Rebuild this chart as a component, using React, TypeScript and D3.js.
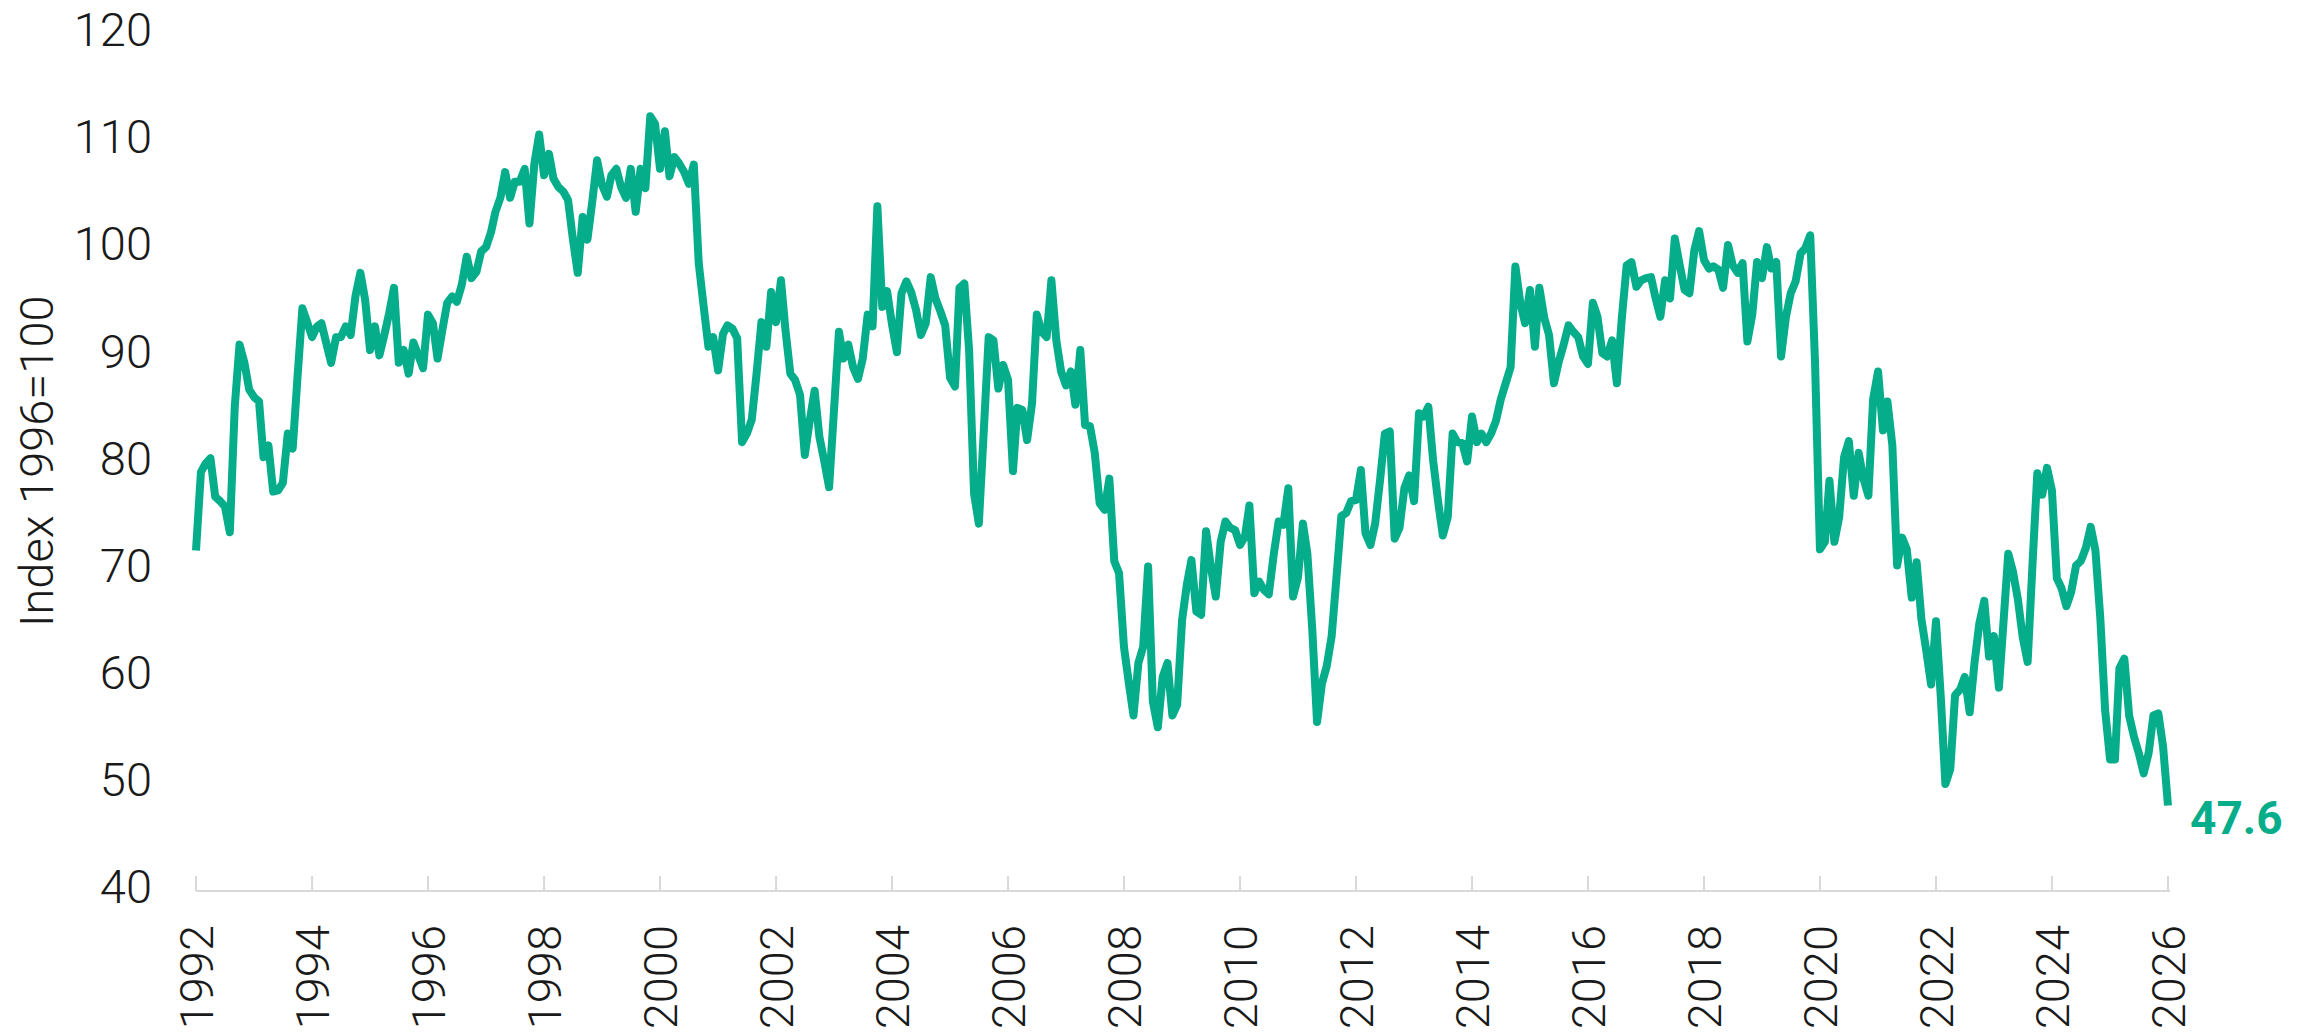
import React from "react";
import * as d3 from "d3";

const WIDTH = 2300;
const HEIGHT = 1033;

// Monthly index values, Jan 1992 onwards
const values1992to1999 = [
  71.4, 78.7, 79.5, 80.0, 76.4, 76.0, 75.5, 73.1, 84.8, 90.6, 88.9, 86.4,
  85.7, 85.3, 80.1, 81.2, 76.9, 77.0, 77.7, 82.3, 80.9, 87.5, 94.0, 92.7,
  91.3, 92.3, 92.6, 90.7, 88.9, 91.3, 91.3, 92.3, 91.5, 95.1, 97.3, 94.8,
  90.1, 92.3, 89.6, 91.5, 93.5, 95.9, 88.9, 90.1, 87.9, 90.8, 89.6, 88.4,
  93.4, 92.6, 89.3, 92.0, 94.5, 95.1, 94.6, 96.2, 98.8, 96.8, 97.4, 99.3,
  99.7, 101.1, 103.0, 104.3, 106.7, 104.3, 105.8, 105.8, 107.0, 101.9, 107.5, 110.2,
  106.4, 108.4, 106.1, 105.3, 104.9, 104.1, 100.5, 97.3, 102.5, 100.4, 104.0, 107.8,
  105.5, 104.4, 106.4, 107.0, 105.3, 104.3, 107.0, 103.0, 107.0, 105.2, 111.9, 111.2,
];
const values2000to2009 = [
  107.0, 110.5, 106.3, 108.1, 107.5, 106.7, 105.6, 107.4, 98.2, 94.3, 90.4, 91.3,
  88.2, 91.6, 92.4, 92.1, 91.2, 81.5, 82.3, 83.6, 88.0, 92.7, 90.4, 95.5,
  92.7, 96.6, 92.0, 87.9, 87.3, 85.9, 80.3, 83.5, 86.3, 82.0, 79.7, 77.3,
  84.5, 91.8, 89.3, 90.6, 88.5, 87.4, 89.3, 93.4, 92.3, 103.5, 94.1, 95.6,
  92.5, 89.9, 95.4, 96.5, 95.5, 93.8, 91.5, 92.6, 96.9, 94.9, 93.7, 92.4,
  87.5, 86.7, 95.9, 96.3, 90.0, 76.7, 73.9, 82.5, 91.3, 91.0, 86.5, 88.7,
  87.3, 78.8, 84.7, 84.5, 81.7, 85.1, 93.4, 91.8, 91.3, 96.6, 91.0, 88.1,
  86.8, 88.1, 85.0, 90.1, 83.1, 83.0, 80.5, 75.8, 75.2, 78.1, 70.4, 69.3,
  62.4, 59.0, 56.0, 60.9, 62.4, 69.9, 57.3, 54.9, 59.6, 60.9, 56.0, 57.0,
  64.9, 68.3, 70.5, 65.7, 65.4, 73.2, 69.9, 67.1, 72.2, 74.1, 73.5, 73.3,
];
const values2010to2019 = [
  71.9, 72.7, 75.6, 67.4, 68.5, 67.7, 67.3, 71.0, 74.1, 73.8, 77.2, 67.1,
  68.9, 73.9, 71.1, 64.0, 55.4, 59.0, 60.6, 63.4, 69.0, 74.6, 74.9, 76.0,
  76.1, 78.9, 73.0, 71.9, 73.9, 78.0, 82.3, 82.5, 72.5, 73.5, 77.2, 78.4,
  76.0, 84.2, 83.9, 84.8, 79.8, 76.0, 72.8, 74.5, 82.3, 81.5, 81.4, 79.7,
  83.9, 81.5, 82.3, 81.5, 82.3, 83.5, 85.5, 87.0, 88.5, 97.9, 94.5, 92.6,
  95.7, 90.4, 95.9, 93.1, 91.5, 87.0, 89.0, 90.6, 92.4, 91.8, 91.3, 89.5,
  88.8, 94.5, 93.2, 89.8, 89.5, 91.0, 87.0, 93.0, 98.0, 98.3, 96.0, 96.6,
  96.8, 96.9, 95.0, 93.2, 96.6, 94.9, 100.5, 98.0, 95.7, 95.4, 99.4, 101.2,
  98.5, 97.7, 97.9, 97.6, 95.9, 99.9, 98.0, 97.3, 98.2, 90.9, 93.4, 98.3,
  96.8, 99.7, 97.7, 98.3, 89.5, 93.2, 95.4, 96.5, 99.1, 99.6, 100.8, 89.0,
];
const values2020to2026 = [
  71.5, 72.2, 77.9, 72.2, 74.5, 80.1, 81.6, 76.5, 80.5, 78.1, 76.5, 85.5,
  88.1, 82.6, 85.3, 81.2, 70.0, 72.6, 71.5, 67.0, 70.3, 65.0, 62.0, 58.9,
  64.8, 57.5, 49.6, 51.0, 57.9, 58.4, 59.6, 56.3, 61.0, 64.6, 66.7, 61.5,
  63.4, 58.6, 64.5, 71.1, 69.4, 66.8, 63.3, 61.0, 70.2, 78.6, 76.6, 79.1,
  77.0, 68.8, 67.9, 66.2, 67.5, 70.0, 70.4, 71.6, 73.6, 71.4, 65.0, 56.5,
  51.9, 51.9, 60.4, 61.3, 56.0, 54.0, 52.5, 50.6, 52.5, 56.0, 56.2, 53.1,
  47.6,
];

const startYear = 1992;
const endYear = 2026;
const yTickValues = [40, 50, 60, 70, 80, 90, 100, 110, 120];
const xTickYears = [1992, 1994, 1996, 1998, 2000, 2002, 2004, 2006, 2008, 2010, 2012, 2014, 2016, 2018, 2020, 2022, 2024, 2026];
const yAxisTitle = "Index 1996=100";

const GREEN = "#06ad8a";
const TEXT = "#1a1a1a";
const AXIS = "#d9d9d9";

export default function App() {
  const values = [...values1992to1999, ...values2000to2009, ...values2010to2019, ...values2020to2026];
  const data = values.map((v, i) => ({ date: new Date(startYear, i, 1), value: v }));

  const x = d3
    .scaleTime()
    .domain([new Date(startYear, 0, 1), new Date(endYear, 0, 1)])
    .range([196, 2168]);
  const y = d3.scaleLinear().domain([40, 120]).range([887, 29.5]);

  const line = d3
    .line<{ date: Date; value: number }>()
    .x((d) => x(d.date))
    .y((d) => y(d.value));

  const last = data[data.length - 1];
  const axisY = 891;

  return (
    <svg
      width={WIDTH}
      height={HEIGHT}
      style={{ position: "absolute", left: 0, top: 0, background: "#fff" }}
      fontFamily="Roboto, 'Noto Sans', sans-serif"
    >
      {yTickValues.map((v) => (
        <text
          key={v}
          x={152}
          y={y(v)}
          dy="0.35em"
          textAnchor="end"
          fontSize={47}
          fontWeight={300}
          fill={TEXT}
        >
          {v}
        </text>
      ))}
      <text
        transform={`translate(53, ${(y(40) + y(120)) / 2 + 3}) rotate(-90)`}
        textAnchor="middle"
        fontSize={47}
        fontWeight={300}
        fill={TEXT}
      >
        {yAxisTitle}
      </text>

      <line x1={x(new Date(startYear, 0, 1))} x2={x(new Date(endYear, 0, 1)) + 2} y1={axisY} y2={axisY} stroke={AXIS} strokeWidth={2} />
      {xTickYears.map((yr) => {
        const xx = x(new Date(yr, 0, 1));
        return (
          <g key={yr}>
            <line x1={xx} x2={xx} y1={axisY - 15} y2={axisY} stroke={AXIS} strokeWidth={2} />
            <text
              transform={`translate(${xx + 17}, 925) rotate(-90)`}
              textAnchor="end"
              fontSize={47}
              fontWeight={300}
              fill={TEXT}
            >
              {yr}
            </text>
          </g>
        );
      })}

      <path
        d={line(data) || ""}
        fill="none"
        stroke={GREEN}
        strokeWidth={8}
        strokeLinejoin="round"
        strokeLinecap="butt"
      />

      <text
        x={x(last.date) + 22}
        y={y(last.value) + 12}
        dy="0.35em"
        fontSize={46}
        fontWeight={700}
        fill={GREEN}
      >
        {last.value.toFixed(1)}
      </text>
    </svg>
  );
}
